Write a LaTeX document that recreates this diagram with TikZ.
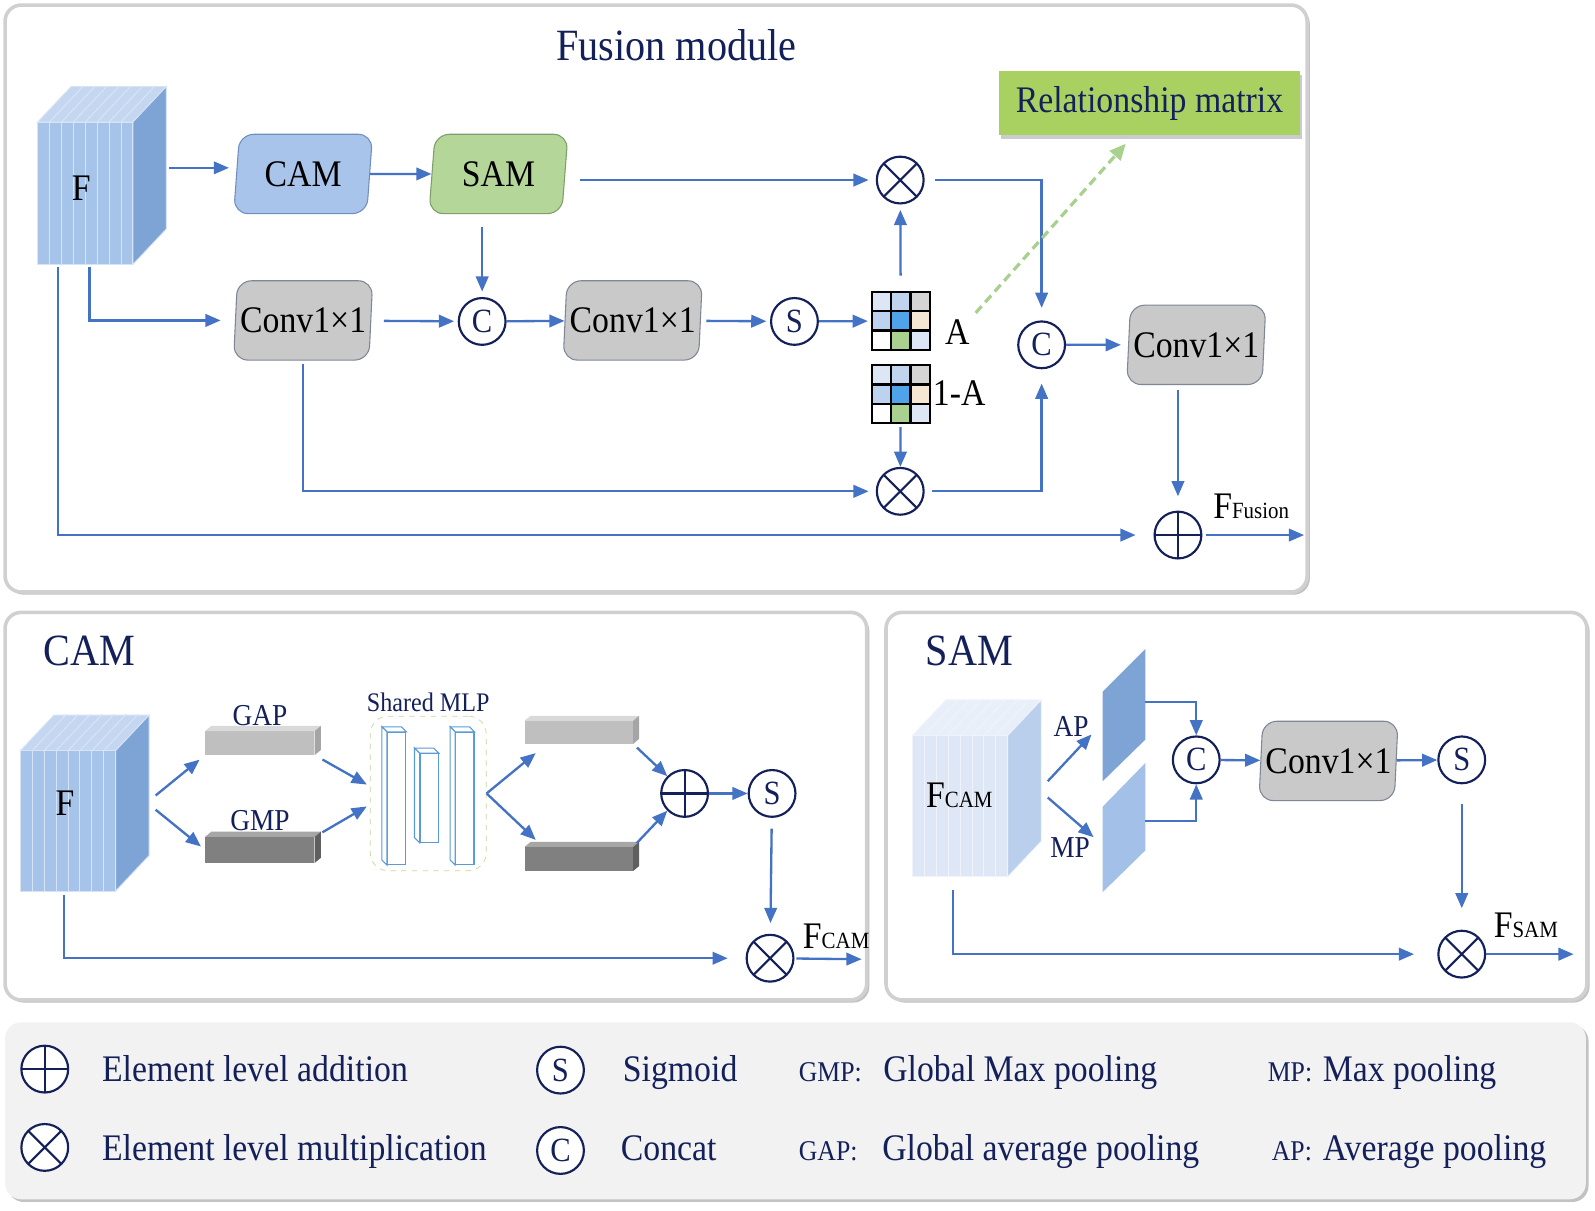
\documentclass[tikz,border=0pt]{standalone}
\usepackage{fontspec}
\setmainfont{Liberation Serif}[FakeStretch=0.9]
\usetikzlibrary{arrows.meta,shapes.geometric,positioning,shadows}

\definecolor{arrowblue}{HTML}{4472C4}
\definecolor{navy}{HTML}{14205A}
\definecolor{camblue}{HTML}{A9C4EB}
\definecolor{camedge}{HTML}{6F8FC0}
\definecolor{samgreen}{HTML}{B4D698}
\definecolor{samedge}{HTML}{7E9E6A}
\definecolor{convgrey}{HTML}{C9C9C9}
\definecolor{convedge}{HTML}{7F8796}
\definecolor{relgreen}{HTML}{A9D161}
\definecolor{dashgreen}{HTML}{A9D18E}
\definecolor{panelgrey}{HTML}{D0D0D0}
\definecolor{legendbox}{HTML}{F2F2F2}
\definecolor{stackfront}{HTML}{A6C3E9}
\definecolor{stacktop}{HTML}{C5D7F0}
\definecolor{stackside}{HTML}{7EA4D6}
\definecolor{camfront}{HTML}{DDE7F5}
\definecolor{camtop}{HTML}{E8EFF9}
\definecolor{camside}{HTML}{B9CFEB}
\definecolor{planeA}{HTML}{7EA4D6}
\definecolor{planeB}{HTML}{A3C1E8}
\definecolor{gapgrey}{HTML}{BFBFBF}
\definecolor{gaptop}{HTML}{D9D9D9}
\definecolor{gapside}{HTML}{A5A5A5}
\definecolor{gmpgrey}{HTML}{808080}
\definecolor{gmptop}{HTML}{A6A6A6}
\definecolor{gmpside}{HTML}{5F5F5F}
\definecolor{mlpline}{HTML}{5B9BD5}
\definecolor{mlpgreen}{HTML}{C7D99A}
\definecolor{cellA}{HTML}{DCE6F4}
\definecolor{cellB}{HTML}{C0D4EE}
\definecolor{cellC}{HTML}{D4D4D4}
\definecolor{cellD}{HTML}{BCD2EE}
\definecolor{cellE}{HTML}{4FA3EA}
\definecolor{cellF}{HTML}{F6E6D4}
\definecolor{cellH}{HTML}{A9D08E}

\newcommand\titlefont{\fontsize{25}{28}\selectfont}
\newcommand\boxfont{\fontsize{21}{24}\selectfont}
\newcommand\opfont{\fontsize{19}{22}\selectfont}
\newcommand\labfont{\fontsize{17}{19}\selectfont}
\newcommand\mlpfont{\fontsize{15}{17}\selectfont}
\newcommand\subfont{\fontsize{13}{15}\selectfont}
\newcommand\keyfont{\fontsize{16}{18}\selectfont}

% stack of 8 slabs: left x, front top y, front bottom y, front, top, side
\newcommand\slabstack[6]{%
  \foreach \i in {0,...,7}{%
    \pgfmathsetmacro\xa{#1+\i*11.7}%
    \pgfmathsetmacro\xb{#1+(\i+1)*11.7}%
    \filldraw[fill=#5,draw=#4!45!white,line width=.5pt] (\xa,#2) -- ++(33,-35) -- ++(11.7,0) -- (\xb,#2) -- cycle;
    \filldraw[fill=#6,draw=#4!45!white,line width=.5pt] (\xb,#2) -- ++(33,-35) -- ++(0,{#3-#2}) -- (\xb,#3) -- cycle;
    \filldraw[fill=#4,draw=#4!45!white,line width=.5pt] (\xa,#2) rectangle (\xb,#3);
  }}

% top and side of a flat bar node
\newcommand\barfaces[3]{%
  \fill[#2] (#1.north west) -- ++(6,-5) -- ([shift={(6,-5)}]#1.north east) -- (#1.north east) -- cycle;
  \fill[#3] (#1.north east) -- ++(6,-5) -- ([shift={(6,-5)}]#1.south east) -- (#1.south east) -- cycle;}

% top and left side of an MLP layer node
\newcommand\mlpfaces[1]{%
  \filldraw[fill=white,draw=mlpline,line width=.6pt] (#1.north west) -- ++(-5,-5) -- ([shift={(-5,-5)}]#1.north east) -- (#1.north east) -- cycle;
  \filldraw[fill=white,draw=mlpline,line width=.6pt] (#1.north west) -- ++(-5,-5) -- ([shift={(-5,-5)}]#1.south west) -- (#1.south west) -- cycle;}

% 3x3 relationship matrix, top left corner
\newcommand\relmat[2]{%
  \foreach \c/\r/\clr in {0/0/cellA,1/0/cellB,2/0/cellC,0/1/cellD,1/1/cellE,2/1/cellF,0/2/white,1/2/cellH,2/2/cellA}
    \filldraw[fill=\clr,draw=black,line width=1.3pt] ({#1+\c*19},{#2+\r*19}) rectangle ++(19,19);}

\begin{document}
\begin{tikzpicture}[x=0.02cm,y=-0.02cm,
  flow/.style={arrowblue,line width=1.3pt,-{Triangle[length=8.5pt,width=7pt]}},
  relink/.style={dashgreen,line width=1.8pt,dash pattern=on 5pt off 3pt,-{Triangle[length=9pt,width=8pt]}},
  op/.style={circle,draw=navy,line width=1.2pt,fill=white,minimum size=0.92cm,inner sep=0pt,text=navy,font=\opfont},
  mul/.style={op,path picture={\draw[navy,line width=1.2pt] (path picture bounding box.north west) -- (path picture bounding box.south east) (path picture bounding box.north east) -- (path picture bounding box.south west);}},
  add/.style={op,path picture={\draw[navy,line width=1.2pt] (path picture bounding box.north) -- (path picture bounding box.south) (path picture bounding box.west) -- (path picture bounding box.east);}},
  block/.style={trapezium,trapezium left angle=82,trapezium right angle=98,trapezium stretches=true,minimum width=2.74cm,minimum height=1.56cm,rounded corners=8pt,inner sep=0pt,line width=.6pt,font=\boxfont},
  conv/.style={block,fill=convgrey,draw=convedge},
  panel/.style={draw=panelgrey,line width=2pt,fill=white,rounded corners=9pt,drop shadow={shadow xshift=1.5pt,shadow yshift=-1.5pt,fill=black!40,opacity=.6}},
  navytext/.style={text=navy,inner sep=1pt},
  keytext/.style={text=navy,inner sep=0pt,anchor=base west,font=\boxfont},
  cell/.style={inner sep=0pt,minimum size=1.14cm}]
\useasboundingbox (0,0) rectangle (1568,1190.5);

\draw[panel] (5,5) rectangle (1285,582);
\draw[panel] (5,602) rectangle (852,983);
\draw[panel] (871,602) rectangle (1560,983);
\fill[legendbox,rounded corners=9pt,drop shadow={shadow xshift=1.5pt,shadow yshift=-1.5pt,fill=black!40,opacity=.6}] (5,1005) rectangle (1559,1179);

% fusion module
\node[navytext,font=\titlefont] (fusionTitle) at (665,44) {Fusion module};
\slabstack{37}{120}{260}{stackfront}{stacktop}{stackside}
\node[font=\boxfont] (fTop) at (80,185) {F};
\coordinate (fTopR) at (166,165);
\coordinate (fTopL) at (57,262);
\coordinate (fTopM) at (88,262);

\node[block,fill=camblue,draw=camedge] (camBox) at (298,171) {CAM};
\node[block,fill=samgreen,draw=samedge] (samBox) at (490,171) {SAM};
\node[conv] (convA) at (298,315) {Conv1×1};
\node[op] (catA) at (474,316) {C};
\node[conv] (convB) at (622,315) {Conv1×1};
\node[op] (sigA) at (781,316) {S};
\node[cell] (matA) at (885.5,315.5) {};
\relmat{857}{287}
\node[cell] (matB) at (885.5,387.5) {};
\relmat{857}{359}
\node[font=\boxfont] (labA) at (941,326) {A};
\node[font=\boxfont] (labB) at (943,386) {1-A};
\node[mul] (mulTop) at (885,177) {};
\node[mul] (mulBot) at (885,483) {};
\node[op] (catB) at (1024,339) {C};
\node[conv] (convC) at (1176,339) {Conv1×1};
\node[add] (addF) at (1158,526) {};
\coordinate (outF) at (1282,526);
\node[font=\boxfont] (fusionLab) at (1230,498) {F{\subfont Fusion}};
\node[fill=relgreen,minimum width=5.92cm,minimum height=1.26cm,navytext,font=\boxfont,drop shadow={shadow xshift=1pt,shadow yshift=-2pt,fill=black!40,opacity=.5}] (relBox) at (1130,101.5) {Relationship matrix};

\draw[flow,shorten >=4pt] (fTopR) -- (fTopR -| camBox.west);
\draw[flow] (camBox) -- (samBox);
\draw[flow,shorten <=8pt,shorten >=4pt] (samBox.east |- mulTop) -- (mulTop);
\draw[flow,shorten <=7pt,shorten >=3pt] (catA |- samBox.south) -- (catA);
\draw[flow,shorten >=8pt] (fTopM) |- (convA);
\draw[flow,shorten <=7pt,shorten >=2pt] (convA) -- (catA);
\draw[flow] (catA) -- (convB);
\draw[flow,shorten <=3pt,shorten >=2pt] (convB) -- (sigA);
\draw[flow,shorten >=2pt] (sigA) -- (matA);
\draw[flow,shorten <=9pt,shorten >=3pt] (matA) -- (mulTop);
\draw[flow,shorten <=2pt] (matB) -- (mulBot);
\draw[flow,shorten <=2pt,shorten >=4pt] (convA) |- (mulBot);
\draw[flow,shorten <=6pt,shorten >=7pt] (mulTop) -| (catB);
\draw[flow,shorten <=4pt,shorten >=8pt] (mulBot) -| (catB);
\draw[flow,shorten >=4pt] (catB) -- (convC);
\draw[flow,shorten <=3pt,shorten >=8pt] (addF |- convC.south) -- (addF);
\draw[flow,shorten >=10pt] (fTopL) |- (addF);
\draw[flow,shorten <=2pt] (addF) -- (outF);
\draw[relink] (labA.north east) -- ([xshift=2.5cm,yshift=-0.16cm]relBox.south west);

% channel attention module
\node[navytext,font=\titlefont] (camTitle) at (88,640) {CAM};
\slabstack{20}{738}{876}{stackfront}{stacktop}{stackside}
\node[font=\boxfont] (fCam) at (64,790) {F};
\coordinate (fCamA) at (153,782);
\coordinate (fCamB) at (153,796);
\coordinate (fCamD) at (63,880);
\node[fill=gapgrey,inner sep=0pt,minimum width=2.14cm,minimum height=0.46cm] (gapBar) at (255.5,730.5) {};
\barfaces{gapBar}{gaptop}{gapside}
\node[navytext,font=\labfont,above=2pt of gapBar] (gapLab) {GAP};
\node[fill=gmpgrey,inner sep=0pt,minimum width=2.14cm,minimum height=0.5cm] (gmpBar) at (255.5,835.5) {};
\barfaces{gmpBar}{gmptop}{gmpside}
\node[navytext,font=\labfont,above=2pt of gmpBar] (gmpLab) {GMP};
\node[draw=mlpgreen,dashed,rounded corners=10pt,inner sep=0pt,minimum width=2.28cm,minimum height=3.04cm] (mlpBox) at (421,780) {};
\node[navytext,font=\mlpfont,above=1pt of mlpBox] (mlpLab) {Shared MLP};
\node[draw=mlpline,fill=white,line width=.6pt,inner sep=0pt,minimum width=0.36cm,minimum height=2.6cm] (mlpA) at (390,785) {};
\mlpfaces{mlpA}
\node[draw=mlpline,fill=white,line width=.6pt,inner sep=0pt,minimum width=0.36cm,minimum height=1.74cm] (mlpB) at (422,784.5) {};
\mlpfaces{mlpB}
\node[draw=mlpline,fill=white,line width=.6pt,inner sep=0pt,minimum width=0.36cm,minimum height=2.6cm] (mlpC) at (457,785) {};
\mlpfaces{mlpC}
\node[fill=gapgrey,inner sep=0pt,minimum width=2.12cm,minimum height=0.44cm] (upBar) at (569,720) {};
\barfaces{upBar}{gaptop}{gapside}
\node[fill=gmpgrey,inner sep=0pt,minimum width=2.12cm,minimum height=0.46cm] (lowBar) at (569,844.5) {};
\barfaces{lowBar}{gmptop}{gmpside}
\node[add] (addC) at (673,780) {};
\node[op] (sigC) at (759,780) {S};
\node[mul] (mulC) at (757,942) {};
\coordinate (outC) at (847,943);
\node[font=\boxfont] (camLab) at (822,920) {F{\subfont CAM}};

\draw[flow,shorten >=4pt] (fCamA) -- (gapBar.south west);
\draw[flow,shorten >=3pt] (fCamB) -- (gmpBar.west);
\draw[flow,shorten <=5pt,shorten >=2pt] (gapBar.south east) -- ([yshift=0.14cm]mlpBox.west);
\draw[flow,shorten <=5pt,shorten >=2pt] (gmpBar.north east) -- ([yshift=-0.22cm]mlpBox.west);
\draw[flow] (mlpBox.east) -- ([xshift=0.22cm,yshift=-0.18cm]upBar.south west);
\draw[flow] (mlpBox.east) -- ([xshift=0.22cm,yshift=0.14cm]lowBar.north west);
\draw[flow,shorten <=3pt] (upBar.south east) -- (addC.north west);
\draw[flow,shorten <=3pt] (lowBar.north east) -- (addC.south west);
\draw[flow] (addC) -- (sigC);
\draw[flow,shorten <=6pt,shorten >=6pt] (sigC) -- (mulC);
\draw[flow,shorten >=10pt] (fCamD) |- (mulC);
\draw[flow,shorten <=1pt] (mulC) -- (outC);

% spatial attention module
\node[navytext,font=\titlefont] (samTitle) at (953,640) {SAM};
\slabstack{897}{723}{862}{camfront}{camtop}{camside}
\node[font=\boxfont] (fSam) at (943,782) {F{\subfont CAM}};
\coordinate (fSamA) at (1030,768);
\coordinate (fSamB) at (1030,784);
\coordinate (fSamD) at (937,875);
\fill[planeA] (1084,680) -- (1126,638) -- (1126,727) -- (1084,768) -- cycle;
\fill[planeB] (1084,793) -- (1126,750) -- (1126,836) -- (1084,877) -- cycle;
\coordinate (apIn) at (1073,722);
\coordinate (mpIn) at (1075,823);
\coordinate (apOut) at (1126,690);
\coordinate (mpOut) at (1126,807);
\node[navytext,font=\labfont] (apLab) at (1053,714) {AP};
\node[navytext,font=\labfont] (mpLab) at (1052,833) {MP};
\node[op] (catS) at (1176,747) {C};
\node[conv] (convS) at (1306,748) {Conv1×1};
\node[op] (sigS) at (1437,747) {S};
\node[mul] (mulS) at (1437,938) {};
\coordinate (outS) at (1547,938);
\node[font=\boxfont] (samLab) at (1500,910) {F{\subfont SAM}};

\draw[flow] (fSamA) -- (apIn);
\draw[flow] (fSamB) -- (mpIn);
\draw[flow] (apOut) -| (catS);
\draw[flow] (mpOut) -| (catS);
\draw[flow] (catS) -- (convS);
\draw[flow] (convS) -- (sigS);
\draw[flow,shorten <=11pt,shorten >=12pt] (sigS) -- (mulS);
\draw[flow,shorten >=13pt] (fSamD) |- (mulS);
\draw[flow] (mulS) -- (outS);

% legend
\node[add] (addKey) at (44,1051) {};
\node[mul] (mulKey) at (44,1128) {};
\node[op] (sigKey) at (551,1052) {S};
\node[op] (catKey) at (551,1131) {C};
\node[keytext] (addTxt) at (100,1063) {Element level addition};
\node[keytext] (mulTxt) at (100,1141) {Element level multiplication};
\node[keytext] (sigTxt) at (612,1063) {Sigmoid};
\node[keytext] (catTxt) at (610,1141) {Concat};
\node[keytext,font=\keyfont] (gmpKey) at (785,1063) {GMP:};
\node[keytext] (gmpTxt) at (868,1063) {Global Max pooling};
\node[keytext,font=\keyfont] (gapKey) at (785,1141) {GAP:};
\node[keytext] (gapTxt) at (867,1141) {Global average pooling};
\node[keytext,font=\keyfont] (mpKey) at (1246,1063) {MP:};
\node[keytext] (mpTxt) at (1300,1063) {Max pooling};
\node[keytext,font=\keyfont] (apKey) at (1250,1141) {AP:};
\node[keytext] (apTxt) at (1300,1141) {Average pooling};
\end{tikzpicture}
\end{document}
